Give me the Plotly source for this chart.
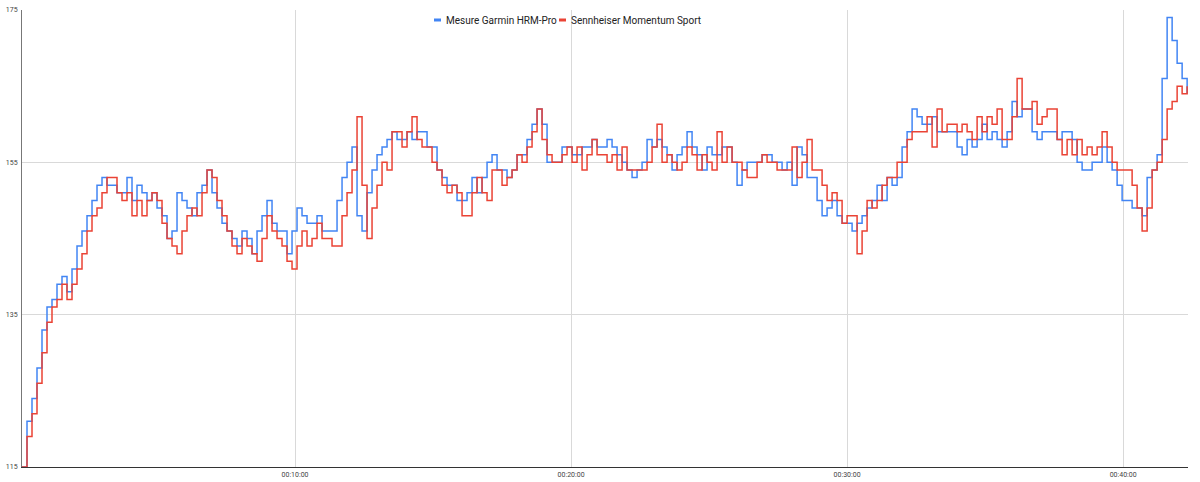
import datetime as dt
import plotly.graph_objects as go

garmin_hrm_pro = [
    115, 121, 124, 128, 133, 136, 137, 139, 140, 138, 141, 144, 146, 148, 150, 152, 153, 152,
    152, 151, 151, 153, 150, 152, 151, 150, 151, 149, 148, 145, 146, 151, 150, 149, 148, 151, 152, 154,
    151, 149, 147, 146, 145, 144, 146, 145, 143, 146, 148, 150, 147, 146, 146, 143, 146, 149, 148,
    147, 147, 148, 146, 146, 146, 150, 153, 155, 157, 148, 146, 151, 154, 156, 157, 158, 159, 158,
    158, 159, 158, 159, 159, 157, 157, 154, 153, 152, 152, 150, 150, 151, 153, 151, 153, 155, 156,
    154, 154, 153, 154, 156, 156, 158, 160, 162, 160, 155, 155, 155, 157, 157, 156, 156, 157, 157,
    158, 157, 157, 158, 157, 156, 155, 154, 153, 154, 155, 158, 157, 158, 157, 156, 154, 156, 157,
    159, 157, 156, 154, 157, 156, 156, 157, 157, 155, 152, 154, 155, 155, 155, 156, 156, 155, 155,
    154, 155, 152, 157, 156, 153, 153, 150, 148, 149, 150, 148, 147, 147, 146, 147, 148, 149, 150,
    152, 150, 153, 152, 153, 157, 159, 162, 161, 160, 160, 161, 159, 159, 159, 159, 157, 156, 158,
    157, 158, 160, 158, 159, 158, 157, 159, 163, 161, 162, 162, 159, 158, 159, 159, 159, 158, 159,
    159, 158, 155, 154, 154, 155, 155, 157, 155, 154, 152, 150, 150, 149, 149, 148, 153, 154, 156,
    166, 174, 171, 168, 166, 164,
]

sennheiser_momentum_sport = [
    115, 119, 122, 126, 130, 134, 136, 137, 139, 137, 139, 141, 143, 146, 148, 149, 151, 153,
    153, 151, 150, 151, 148, 150, 148, 150, 151, 150, 147, 145, 144, 143, 146, 148, 149, 148, 151, 154,
    153, 150, 148, 146, 144, 143, 145, 144, 143, 142, 145, 148, 146, 145, 144, 142, 141, 144, 146,
    144, 145, 147, 145, 145, 144, 144, 148, 151, 154, 161, 152, 145, 149, 152, 155, 154, 159, 159,
    157, 159, 161, 158, 157, 157, 155, 154, 152, 151, 152, 151, 148, 148, 151, 153, 151, 150, 154,
    154, 152, 153, 154, 156, 155, 157, 159, 162, 158, 156, 155, 155, 156, 157, 155, 157, 154, 156,
    158, 156, 156, 155, 156, 154, 157, 154, 154, 154, 154, 155, 157, 160, 155, 156, 155, 154, 155,
    157, 156, 154, 156, 155, 154, 159, 155, 157, 155, 155, 154, 153, 153, 155, 156, 155, 155, 154,
    154, 154, 157, 153, 155, 158, 154, 154, 152, 150, 151, 150, 147, 148, 148, 143, 146, 150, 149,
    150, 152, 153, 153, 155, 155, 158, 159, 159, 159, 161, 157, 162, 159, 160, 160, 159, 160, 159,
    158, 161, 159, 161, 160, 162, 158, 158, 161, 166, 162, 162, 163, 160, 161, 162, 162, 158, 156,
    158, 156, 158, 156, 157, 156, 157, 159, 157, 155, 154, 154, 154, 152, 149, 146, 149, 154, 155,
    158, 162, 163, 165, 164, 165,
]

series_names = ["Mesure Garmin HRM-Pro", "Sennheiser Momentum Sport"]
series_colors = ["#4285F4", "#EA4335"]

sample_start_s = 6.5
sample_step_s = 600 / 276 * 5
x_range_s = [6.5, 2541]
x_tick_seconds = [600, 1200, 1800, 2400]
x_tick_labels = ["00:10:00", "00:20:00", "00:30:00", "00:40:00"]
y_ticks = [115, 135, 155, 175]

base = dt.datetime(2024, 1, 1)


def ts(sec):
    return base + dt.timedelta(seconds=sec)


W, H = 1200, 482
ML, MR, MT, MB = 22, 12, 10, 15
PW, PH = W - ML - MR, H - MT - MB

fig = go.Figure()
for name, color, vals in zip(series_names, series_colors,
                             [garmin_hrm_pro, sennheiser_momentum_sport]):
    times = [ts(sample_start_s + i * sample_step_s) for i in range(len(vals))]
    fig.add_trace(go.Scatter(
        x=times, y=vals, name=name, mode="lines", showlegend=False,
        line=dict(color=color, width=1.5, shape="hv"),
    ))

# Custom legend (short swatches like the original)
legend_y_px = 20
swatch_x_px = [434, 559]
for name, color, sx in zip(series_names, series_colors, swatch_x_px):
    py = 1 - (legend_y_px - MT) / PH
    fig.add_shape(type="line", xref="paper", yref="paper",
                  x0=(sx - ML) / PW, x1=(sx + 7 - ML) / PW, y0=py, y1=py,
                  line=dict(color=color, width=3))
    fig.add_annotation(xref="paper", yref="paper", x=(sx + 10 - ML) / PW, y=py,
                       xanchor="left", yanchor="middle", showarrow=False,
                       text=name, font=dict(size=10, color="#222"))

fig.update_layout(
    width=W, height=H,
    margin=dict(l=ML, r=MR, t=MT, b=MB, autoexpand=False),
    paper_bgcolor="white", plot_bgcolor="white",
    font=dict(family="Roboto, Arial, sans-serif", color="#444"),
    showlegend=False,
)
fig.update_xaxes(
    type="date", automargin=False,
    range=[ts(x_range_s[0]), ts(x_range_s[1])],
    tickvals=[ts(s) for s in x_tick_seconds],
    ticktext=x_tick_labels,
    tickfont=dict(size=7, color="#444"),
    showgrid=True, gridcolor="#d9d9d9", gridwidth=1,
    showline=True, linecolor="#333", linewidth=1,
    zeroline=False, ticks="", ticklabelstandoff=1,
)
fig.update_yaxes(
    range=[115, 175], automargin=False,
    tickvals=y_ticks,
    tickfont=dict(size=7, color="#444"),
    showgrid=True, gridcolor="#d9d9d9", gridwidth=1,
    showline=True, linecolor="#777", linewidth=1,
    zeroline=False, ticks="", ticklabelstandoff=2,
)

fig.write_html(
    "out.html",
    config={"displayModeBar": False},
    post_script="document.body.style.margin='0';document.body.style.overflow='hidden';",
)
